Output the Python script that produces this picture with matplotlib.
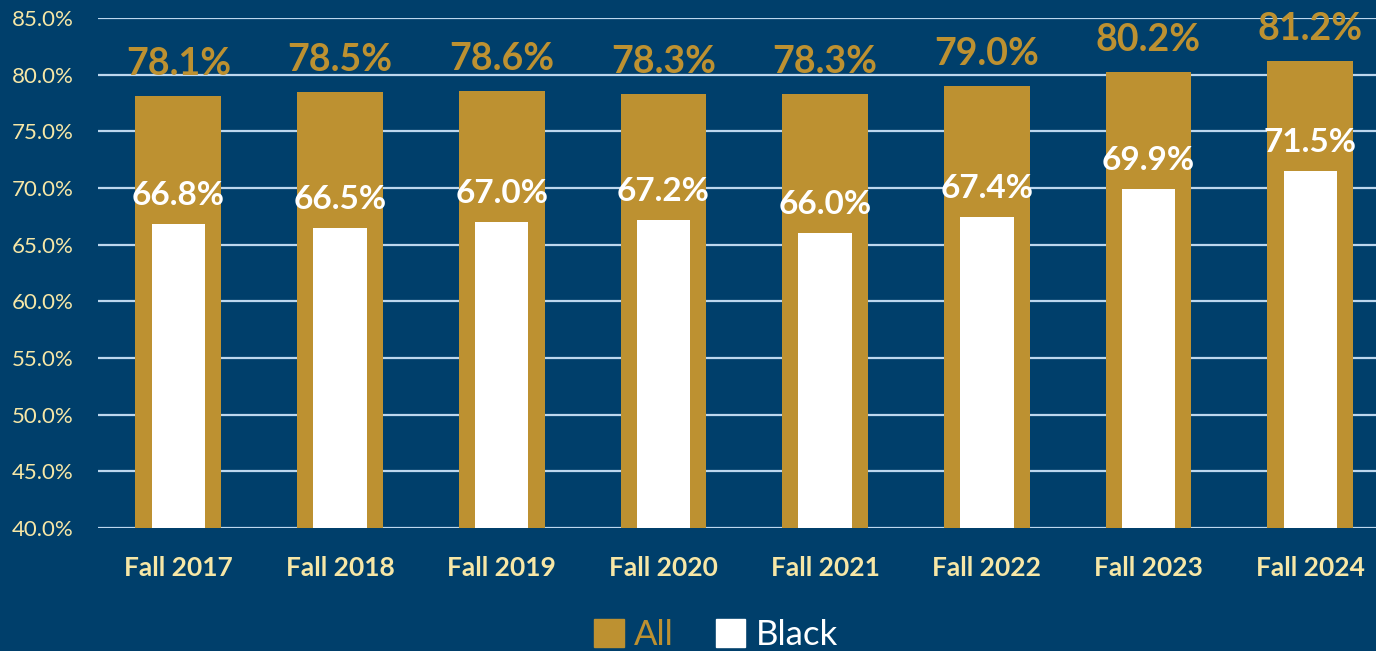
import numpy as np
import matplotlib; matplotlib.use("Agg")
import matplotlib.pyplot as plt
from matplotlib.patches import Patch

terms = ["Fall 2017", "Fall 2018", "Fall 2019", "Fall 2020", "Fall 2021", "Fall 2022", "Fall 2023", "Fall 2024"]
all_pct = [78.1, 78.5, 78.6, 78.3, 78.3, 79.0, 80.2, 81.2]
black_pct = [66.8, 66.5, 67.0, 67.2, 66.0, 67.4, 69.9, 71.5]
yticks = [40, 45, 50, 55, 60, 65, 70, 75, 80, 85]

BG = "#003F6B"; GOLD = "#BD9131"; PALE = "#F7E7A6"; GRID = "#BDD7EE"
plt.rcParams["font.family"] = ["Lato", "DejaVu Sans"]

fig = plt.figure(figsize=(13.76, 6.51), dpi=100, facecolor=BG)
ax = fig.add_axes([97.5/1376, 1-528/651, 1293.6/1376, 510/651], facecolor=BG)
x = np.arange(len(terms))
ax.bar(x, [v-40 for v in all_pct], bottom=40, width=0.53, color=GOLD, zorder=3)
ax.bar(x, [v-40 for v in black_pct], bottom=40, width=0.33, color="white", zorder=4)
for i in x:
    ax.annotate(f"{all_pct[i]:.1f}%", (i, all_pct[i]), xytext=(0, 21), textcoords="offset pixels",
                ha="center", va="baseline", color=GOLD, fontsize=27, fontweight="bold", zorder=5)
    ax.annotate(f"{black_pct[i]:.1f}%", (i, black_pct[i]), xytext=(0, 19), textcoords="offset pixels",
                ha="center", va="baseline", color="white", fontsize=24, fontweight="bold", zorder=5)

ax.set_ylim(40, 85); ax.set_xlim(-0.5, len(terms)-0.5)
ax.set_yticks(yticks)
ax.set_yticklabels([f"{v:.1f}%" for v in yticks], color=PALE, fontsize=16)
ax.set_xticks(x)
ax.set_xticklabels(terms, color=PALE, fontsize=19, fontweight="bold")
ax.tick_params(axis="y", length=0, pad=17)
ax.tick_params(axis="x", length=0, pad=20)
ax.grid(axis="y", color=GRID, linewidth=1.6, zorder=0)
for s in ax.spines.values(): s.set_visible(False)

leg = fig.legend(handles=[Patch(color=GOLD, label="All"), Patch(color="white", label="Black")],
                 loc="center", bbox_to_anchor=(716/1376, 1-635/651), ncol=2, frameon=False,
                 fontsize=25, handlelength=0.85, handleheight=0.85, handletextpad=0.3, columnspacing=1.2)
for t, c in zip(leg.get_texts(), [GOLD, "white"]): t.set_color(c)

fig.savefig("out.png", facecolor=BG)
